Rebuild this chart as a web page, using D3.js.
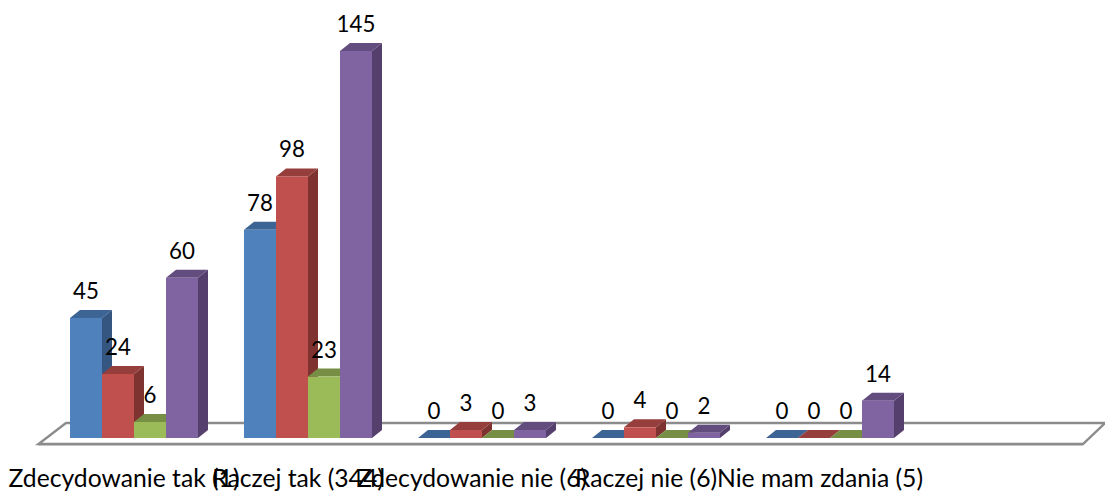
<!DOCTYPE html>
<html><head><meta charset="utf-8">
<script src="https://cdn.jsdelivr.net/npm/d3@7"></script>
<style>html,body{margin:0;padding:0;background:#fff}svg{display:block}</style>
</head><body><svg id="c" width="1105" height="495"></svg>
<script>
const categories = ["Zdecydowanie tak (1)","Raczej tak (344)","Zdecydowanie nie (6)","Raczej nie (6)","Nie mam zdania (5)"];
const seriesA = [45,78,0,0,0];
const seriesB = [24,98,3,4,0];
const seriesC = [6,23,0,0,0];
const seriesD = [60,145,3,2,14];
const seriesColors = [
 {front:"#4f81bd",top:"#3c6494",side:"#345680"},
 {front:"#c0504d",top:"#953e3b",side:"#7f3331"},
 {front:"#9bbb59",top:"#778f45",side:"#677b3b"},
 {front:"#8064a2",top:"#634d7e",side:"#553f6c"}
];
const allSeries = [seriesA,seriesB,seriesC,seriesD];
const svg = d3.select("#c");
const dx = 10, dy = 8, baseY = 438;
const y = d3.scaleLinear().domain([0,145]).range([baseY,51]);
const x0 = d3.scaleBand().domain(d3.range(categories.length)).range([37,907]).paddingInner(0).paddingOuter(0);
const barW = 32;
const barX = (c,s) => x0(c) + 33 + s*barW;
// floor
const floor = svg.append("g");
floor.append("path")
  .attr("d",`M38.5,444H1083L1105,423H66Z`)
  .attr("fill","#fff").attr("stroke","#8c8c8c").attr("stroke-width",2.4);
floor.append("path").attr("d","M38,445.5H1083").attr("stroke","#c4c4c4").attr("stroke-width",1).attr("fill","none");
// bars
const g = svg.append("g");
categories.forEach((cat,c)=>{
  allSeries.forEach((vals,s)=>{
    const v = vals[c], X = barX(c,s), T = y(v), col = seriesColors[s];
    const b = g.append("g");
    b.append("path").attr("fill",col.side)
      .attr("d",`M${X+barW},${T}L${X+barW+dx},${T-dy}V${baseY-dy}L${X+barW},${baseY}Z`);
    b.append("path").attr("fill",col.top)
      .attr("d",`M${X},${T}L${X+dx},${T-dy}H${X+barW+dx}L${X+barW},${T}Z`);
    b.append("rect").attr("x",X).attr("y",T).attr("width",barW).attr("height",baseY-T).attr("fill",col.front);
  });
});
// data labels
const lab = svg.append("g").attr("font-family","Lato, Carlito, sans-serif").attr("font-size",22.3).attr("fill","#000").attr("text-anchor","middle");
categories.forEach((cat,c)=>{
  allSeries.forEach((vals,s)=>{
    lab.append("text").attr("x",barX(c,s)+barW/2).attr("y",y(vals[c])-19).text(vals[c]);
  });
});
// category labels
const xl = svg.append("g").attr("font-family","Lato, Carlito, sans-serif").attr("font-size",24.7).attr("fill","#000").attr("text-anchor","middle");
categories.forEach((cat,c)=>{
  xl.append("text").attr("x",x0(c)+x0.bandwidth()/2+ 0).attr("y",487).text(cat);
});
</script></body></html>
